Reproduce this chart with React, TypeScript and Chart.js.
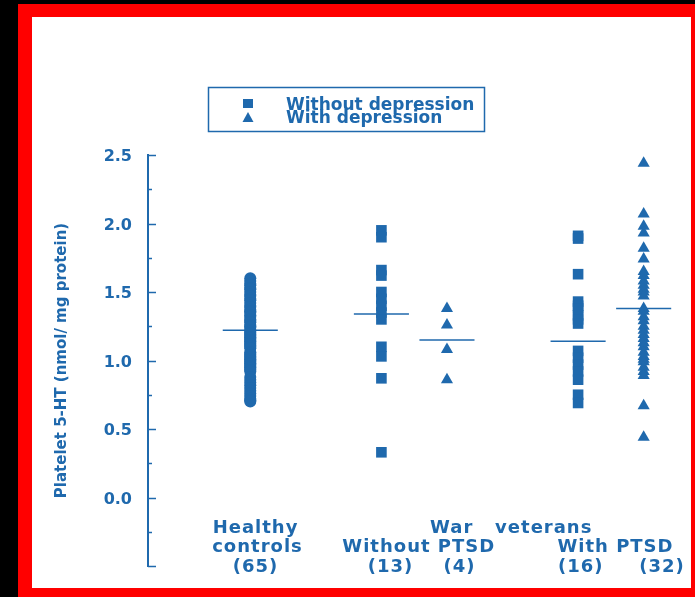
import React, { useEffect, useRef } from 'react';
import { Chart, registerables } from 'chart.js';

Chart.register(...registerables);

const BLUE = '#1f69ad';
const FONT = '"DejaVu Sans", "Liberation Sans", Arial, sans-serif';

// x position of each group (linear x scale units)
const groupX = [1, 3, 4, 6, 7];

const healthyControls = [
  1.60, 1.58, 1.56, 1.55, 1.53, 1.52, 1.50, 1.48, 1.47, 1.45,
  1.44, 1.42, 1.40, 1.39, 1.37, 1.36, 1.35, 1.33, 1.32, 1.30,
  1.29, 1.28, 1.26, 1.25, 1.24, 1.22, 1.21, 1.20, 1.19, 1.18,
  1.17, 1.16, 1.15, 1.14, 1.13, 1.12, 1.11, 1.10, 1.09, 1.06,
  1.05, 1.04, 1.03, 1.02, 1.01, 1.00, 0.99, 0.98, 0.97, 0.96,
  0.95, 0.94, 0.93, 0.92, 0.88, 0.86, 0.84, 0.82, 0.80, 0.78,
  0.76, 0.74, 0.72, 0.71, 0.70,
];
const withoutPtsdNoDepression = [1.95, 1.90, 1.66, 1.62, 1.50, 1.45, 1.40, 1.35, 1.30, 1.10, 1.03, 0.87, 0.33];
const withoutPtsdDepression = [1.38, 1.26, 1.08, 0.86];
const withPtsdNoDepression = [1.91, 1.89, 1.63, 1.43, 1.40, 1.38, 1.33, 1.30, 1.27, 1.07, 1.02, 0.97, 0.92, 0.86, 0.75, 0.69];
const withPtsdDepression = [
  2.44, 2.07, 1.98, 1.93, 1.82, 1.74, 1.65, 1.62, 1.58, 1.55,
  1.52, 1.50, 1.47, 1.38, 1.36, 1.32, 1.29, 1.25, 1.22, 1.19,
  1.16, 1.13, 1.10, 1.06, 1.03, 1.01, 0.99, 0.95, 0.92, 0.89,
  0.67, 0.44,
];
const groupMeans = [1.22, 1.34, 1.15, 1.14, 1.38];

const Y_MIN = -0.5;
const Y_MAX = 2.5;
const Y_STEP = 0.5;
const Y_MINOR_STEP = 0.25;
const X_MIN = -0.56;
const X_MAX = 7.6;

const yTitle = 'Platelet 5-HT (nmol/ mg protein)';
const legendLabels = ['Without depression', 'With depression'];

const bottomLabelTexts = ['Healthy', 'controls', '(65)', 'War   veterans', 'Without PTSD', 'With PTSD', '(13)', '(4)', '(16)', '(32)'];
const bottomLabelX = [1.08, 1.11, 1.08, 4.98, 3.57, 6.57, 3.14, 4.19, 6.04, 7.28];
const bottomLabelRow = [0, 1, 2, 0, 1, 1, 2, 2, 2, 2];

const toPoints = (vals: number[], x: number) => vals.map((v) => ({ x, y: v }));

const overlayPlugin = {
  id: 'overlay',
  afterDraw(chart: any) {
    const ctx = chart.ctx as CanvasRenderingContext2D;
    const ys = chart.scales.y;
    const xs = chart.scales.x;
    const axisX = ys.right;
    ctx.save();
    // inward tick marks (major and minor)
    ctx.strokeStyle = BLUE;
    ctx.lineWidth = 1.5;
    for (let v = Y_MIN; v <= Y_MAX + 1e-9; v += Y_MINOR_STEP) {
      const py = Math.round(ys.getPixelForValue(v)) + 0.5;
      const major = Math.abs(v / Y_STEP - Math.round(v / Y_STEP)) < 1e-6;
      const len = major ? 8 : 4;
      ctx.beginPath();
      ctx.moveTo(axisX, py);
      ctx.lineTo(axisX + len, py);
      ctx.stroke();
    }

    // legend box
    ctx.lineWidth = 1.5;
    ctx.strokeRect(208.5, 87.5, 276, 44);
    ctx.fillStyle = BLUE;
    ctx.fillRect(243, 99, 10, 9);
    ctx.beginPath();
    ctx.moveTo(248, 112);
    ctx.lineTo(253.5, 122);
    ctx.lineTo(242.5, 122);
    ctx.closePath();
    ctx.fill();
    ctx.font = `bold 17px ${FONT}`;
    ctx.textAlign = 'left';
    ctx.textBaseline = 'alphabetic';
    ctx.fillText(legendLabels[0], 286, 110);
    ctx.fillText(legendLabels[1], 286, 123);

    // category labels
    ctx.font = `bold 18px ${FONT}`;
    (ctx as any).letterSpacing = '1px';
    ctx.textAlign = 'center';
    ctx.textBaseline = 'middle';
    const zeroY = ys.getPixelForValue(0);
    const rowOffsets = [31, 50, 70];
    bottomLabelTexts.forEach((t, i) => {
      ctx.fillText(t, xs.getPixelForValue(bottomLabelX[i]), zeroY + rowOffsets[bottomLabelRow[i]]);
    });
    ctx.restore();
  },
};

export default function App() {
  const canvasRef = useRef<HTMLCanvasElement | null>(null);

  useEffect(() => {
    if (!canvasRef.current) return;
    const halfWidth = 0.42;
    const meanDatasets = groupMeans.map((m, i) => ({
      type: 'line' as const,
      data: [
        { x: groupX[i] - halfWidth, y: m },
        { x: groupX[i] + halfWidth, y: m },
      ],
      borderColor: BLUE,
      borderWidth: 1.5,
      pointRadius: 0,
      fill: false,
    }));
    const pointDs = (vals: number[], x: number, style: string, radius: number) => ({
      type: 'scatter' as const,
      data: toPoints(vals, x),
      pointStyle: style,
      pointRadius: radius,
      backgroundColor: BLUE,
      borderColor: BLUE,
      borderWidth: 0,
    });
    const chart = new Chart(canvasRef.current, {
      type: 'scatter',
      data: {
        datasets: [
          pointDs(healthyControls, groupX[0], 'circle', 6),
          pointDs(withoutPtsdNoDepression, groupX[1], 'rect', 7.5),
          pointDs(withoutPtsdDepression, groupX[2], 'triangle', 7),
          pointDs(withPtsdNoDepression, groupX[3], 'rect', 7.5),
          pointDs(withPtsdDepression, groupX[4], 'triangle', 7),
          ...meanDatasets,
        ] as any,
      },
      options: {
        responsive: false,
        maintainAspectRatio: false,
        animation: false,
        layout: { padding: { left: 49, top: 155, right: 12, bottom: 31 } },
        plugins: { legend: { display: false }, tooltip: { enabled: false } },
        scales: {
          x: { type: 'linear', min: X_MIN, max: X_MAX, display: false },
          y: {
            type: 'linear',
            min: Y_MIN,
            max: Y_MAX,
            afterFit: (s: any) => {
              s.width = 99;
            },
            grid: { display: false, drawTicks: false },
            border: { display: true, color: BLUE, width: 2 },
            ticks: {
              stepSize: Y_STEP,
              padding: 16,
              labelOffset: 2,
              color: BLUE,
              font: { family: FONT, size: 16, weight: 'bold' },
              callback: (v: any) => (Number(v) < 0 ? '' : Number(v).toFixed(1)),
            },
            title: {
              display: true,
              text: yTitle,
              color: BLUE,
              font: { family: FONT, size: 15, weight: 'bold' },
            },
          },
        },
      },
      plugins: [overlayPlugin],
    });
    return () => chart.destroy();
  }, []);

  return (
    <div style={{ position: 'absolute', left: 0, top: 0, width: 695, height: 597, background: '#000', overflow: 'hidden' }}>
      <div style={{ position: 'absolute', left: 18, top: 4, width: 677, height: 593, background: '#ff0000' }} />
      <div style={{ position: 'absolute', left: 32, top: 17, width: 659, height: 571, background: '#ffffff' }} />
      <canvas ref={canvasRef} width={695} height={597} style={{ position: 'absolute', left: 0, top: 0, width: 695, height: 597 }} />
    </div>
  );
}
